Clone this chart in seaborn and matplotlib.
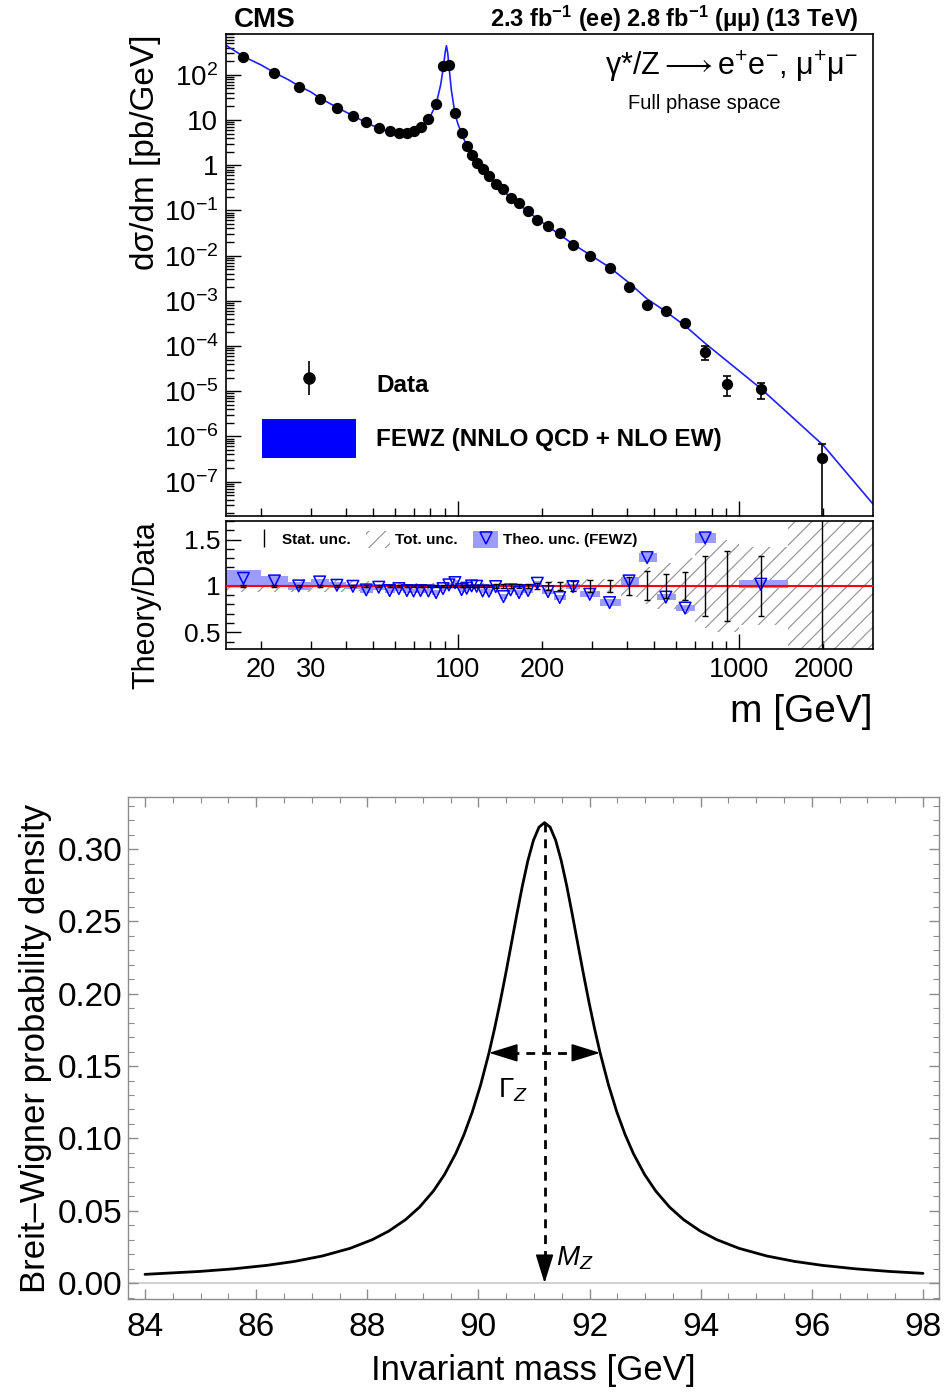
import numpy as np
import pandas as pd
import matplotlib
matplotlib.use("Agg")
import matplotlib.pyplot as plt
import seaborn as sns
from matplotlib.ticker import FixedLocator, FuncFormatter, LogLocator, MultipleLocator, NullFormatter, FormatStrFormatter
from matplotlib.patches import Patch
from matplotlib.lines import Line2D
from matplotlib.legend_handler import HandlerTuple

# ---------------- top panel data ----------------
bin_edges = [15, 20, 25, 30, 35, 40, 45, 50, 55, 60, 64, 68, 72, 76, 81, 86, 91, 96, 101, 106,
             110, 115, 120, 126, 133, 141, 150, 160, 171, 185, 200, 220, 243, 273, 320, 380, 440,
             510, 600, 700, 830, 1000, 1500, 3000]
mass = [17.3, 22.3, 27.2, 32.3, 37.2, 42.4, 47.3, 52.4, 57.3, 61.8, 66.0, 69.7, 73.8, 78.7, 83.8,
        88.7, 93.1, 97.8, 103.3, 107.7, 112.1, 116.8, 122.7, 129.2, 136.5, 145.5, 154.3, 165.3,
        178, 192, 209.6, 230.6, 257, 295, 347, 407, 472, 550, 644, 759, 908, 1197, 1973]
xsec = [247, 109, 55, 29.3, 18.5, 12.3, 8.9, 6.64, 5.7, 5.06, 5.22, 5.79, 6.99, 10.4, 23,
        158, 169, 14.3, 5.14, 2.69, 1.67, 1.13, 0.815, 0.57, 0.379, 0.293, 0.191, 0.143,
        0.098, 0.062, 0.0457, 0.0313, 0.0169, 0.010, 0.00532, 0.00201, 0.00083, 0.000602,
        0.000331, 7.47e-5, 1.46e-5, 1.13e-5, 3.3e-7]
xsec_err_lo = [0] * 39 + [2.57e-5, 6.8e-6, 4.7e-6, 3.29e-7]
xsec_err_hi = [0] * 39 + [2.73e-5, 6.9e-6, 4.0e-6, 3.6e-7]
y_decades = [1e-7, 1e-6, 1e-5, 1e-4, 1e-3, 1e-2, 1e-1, 1, 10, 100]

fewz_mass = [15, 17.3, 20, 22.3, 25, 27.2, 30, 32.3, 37.2, 42.4, 47.3, 52.4, 57.3, 61.8, 66, 70,
             74, 78.7, 83.8, 87, 89, 90.3, 91.2, 92.2, 93.5, 95, 97.8, 100, 103.3, 107.7, 112,
             117, 123, 129, 137, 146, 154, 165, 178, 192, 210, 231, 257, 295, 347, 407, 472,
             550, 644, 759, 1197, 2000, 3000]
fewz_xsec = [450, 255, 165, 112, 78, 57, 42, 31, 19, 12.5, 8.7, 6.6, 5.4, 5.0, 5.1, 5.7,
             6.8, 10, 22, 60, 150, 320, 440, 300, 120, 45, 14, 8.5, 5.0, 2.7, 1.65,
             1.12, 0.79, 0.56, 0.38, 0.27, 0.19, 0.135, 0.095, 0.065, 0.044, 0.029, 0.018,
             0.0105, 0.0055, 0.0025, 0.0011, 0.00058, 0.00028, 0.000115, 1.15e-5,
             6.3e-7, 3.2e-8]

nan = float("nan")
ratio = [1.082, 1.054, 1.0, 1.043, 1.007, 0.996, 0.957, 0.986, 0.95, 0.971,
         0.95, 0.946, 0.95, 0.946, 0.928, 0.971, 1.011, 1.036, 0.96, 0.975,
         1.0, 0.996, 0.946, 0.943, 0.993, 0.885, 0.957, 0.928, 0.95, 1.029,
         0.939, 0.875, 0.993, 0.91, 0.82, 1.054, 1.305, 0.879, 0.761, 1.518,
         nan, 1.018, nan]
theo_unc = [0.09, 0.05, 0.04, 0.035, 0.03, 0.03, 0.03, 0.03, 0.025, 0.025,
            0.025, 0.025, 0.025, 0.025, 0.025, 0.025, 0.025, 0.025, 0.025, 0.025,
            0.025, 0.025, 0.025, 0.025, 0.025, 0.025, 0.025, 0.025, 0.025, 0.025,
            0.03, 0.03, 0.03, 0.03, 0.04, 0.04, 0.05, 0.035, 0.03, 0.05,
            nan, 0.045, nan]
stat_unc = [0.01, 0.01, 0.01, 0.01, 0.01, 0.01, 0.01, 0.01, 0.01, 0.008,
            0.008, 0.008, 0.008, 0.008, 0.008, 0.008, 0.008, 0.008, 0.008, 0.008,
            0.012, 0.012, 0.015, 0.015, 0.018, 0.02, 0.02, 0.022, 0.025, 0.028,
            0.045, 0.043, 0.054, 0.063, 0.068, 0.095, 0.156, 0.125, 0.155, 0.32,
            0.38, 0.32, 3.0]
tot_unc = [0.07, 0.07, 0.07, 0.07, 0.07, 0.05, 0.05, 0.04, 0.04, 0.03,
           0.03, 0.03, 0.03, 0.03, 0.03, 0.03, 0.03, 0.03, 0.03, 0.03,
           0.03, 0.03, 0.03, 0.035, 0.035, 0.035, 0.035, 0.035, 0.035, 0.035,
           0.05, 0.05, 0.065, 0.07, 0.075, 0.12, 0.2, 0.25, 0.3, 0.45,
           0.5, 0.42, 2.0]

# ---------------- bottom panel data ----------------
bw_mass = [84.0, 84.99, 85.59, 86.19, 86.69, 87.19, 87.69, 88.09, 88.39, 88.69, 88.94,
           89.19, 89.39, 89.59, 89.74, 89.89, 90.04, 90.19, 90.29, 90.39, 90.49, 90.59,
           90.69, 90.79, 90.89, 90.99, 91.09, 91.19, 91.29, 91.39, 91.49, 91.59, 91.69,
           91.79, 91.89, 91.99, 92.09, 92.19, 92.34, 92.49, 92.64, 92.79, 92.99, 93.19,
           93.44, 93.69, 93.99, 94.29, 94.69, 95.19, 95.69, 96.19, 96.79, 97.39, 98.0]
bw_density = [0.00604, 0.00807, 0.00984, 0.01224, 0.01498, 0.01872, 0.02402, 0.03000,
              0.03601, 0.04390, 0.05250, 0.06366, 0.07507, 0.08941, 0.10259, 0.11833,
              0.13705, 0.15915, 0.17586, 0.19409, 0.21362, 0.23404, 0.25464, 0.27440,
              0.29202, 0.30606, 0.31515, 0.31830, 0.31515, 0.30606, 0.29202, 0.27440,
              0.25464, 0.23404, 0.21362, 0.19409, 0.17586, 0.15915, 0.13705, 0.11833,
              0.10259, 0.08941, 0.07507, 0.06366, 0.05250, 0.04390, 0.03601, 0.03000,
              0.02402, 0.01872, 0.01498, 0.01224, 0.00984, 0.00807, 0.00672]
M_Z = 91.19
Gamma_Z = 2.0

# ---------------- style ----------------
sns.set_style("white")
plt.rcParams["font.family"] = ["Liberation Sans", "DejaVu Sans"]
plt.rcParams["mathtext.fontset"] = "custom"
plt.rcParams["mathtext.rm"] = "Liberation Sans"
plt.rcParams["mathtext.it"] = "Liberation Sans:italic"
plt.rcParams["mathtext.bf"] = "Liberation Sans:bold"
plt.rcParams["hatch.linewidth"] = 0.9
for k in ("text.color", "axes.labelcolor", "xtick.color", "ytick.color"):
    plt.rcParams[k] = "black"

W, H = 945, 1394
fig = plt.figure(figsize=(W / 100, H / 100), dpi=100)
fig.patch.set_facecolor("white")

def rect(l, t, r, b):
    return [l / W, 1 - b / H, (r - l) / W, (b - t) / H]

ax = fig.add_axes(rect(226, 34, 873, 516))
ax_r = fig.add_axes(rect(226, 521, 873, 649))
ax_bw = fig.add_axes(rect(128, 797, 939, 1299))

# ---------------- main panel ----------------
ax.set_xscale("log")
ax.set_yscale("log")
df_fewz = pd.DataFrame({"m": fewz_mass, "xs": fewz_xsec})
sns.lineplot(data=df_fewz, x="m", y="xs", color="#2020ff", lw=1.2, ax=ax,
             estimator=None, sort=False, zorder=2)
ax.errorbar(mass, xsec, yerr=[xsec_err_lo, xsec_err_hi], fmt="none", ecolor="black",
            elinewidth=1.2, capsize=3, capthick=1.2, zorder=3)
df_data = pd.DataFrame({"m": mass, "xs": xsec})
sns.scatterplot(data=df_data, x="m", y="xs", color="black", s=66, linewidth=0, ax=ax, zorder=4)
ax.set_xlim(15, 3000)
ax.set_ylim(1.74e-8, 800)
ax.set_xlabel("")

data_h = (Line2D([], [], marker="|", color="black", ls="none", ms=25, mew=1.2),
          Line2D([], [], marker="o", color="black", ls="none", ms=8))
fewz_h = Patch(facecolor="#0000ff", edgecolor="none")
ax.legend([data_h, fewz_h], ["Data", "FEWZ (NNLO QCD + NLO EW)"], loc="center left",
          bbox_to_anchor=(0.0556, 0.2178), frameon=False,
          prop={"weight": "bold", "size": 17.5}, handlelength=3.87, handleheight=2.1,
          handletextpad=0.82, labelspacing=0.62, borderpad=0, borderaxespad=0,
          handler_map={tuple: HandlerTuple(ndivide=1, pad=0)})

ax.text(0.012, 1.0145, "CMS", transform=ax.transAxes, fontsize=20, fontweight="bold",
        ha="left", va="baseline")
ax.text(0.977, 1.0145, r"2.3 fb$^{\mathbf{-1}}$ (ee) 2.8 fb$^{\mathbf{-1}}$ (μμ) (13 TeV)",
        transform=ax.transAxes, fontsize=17, fontweight="bold", ha="right", va="baseline")
ax.text(0.977, 0.915, r"γ*/Z$\longrightarrow$e$^{+}$e$^{-}$, μ$^{+}$μ$^{-}$",
        transform=ax.transAxes, fontsize=22, ha="right", va="baseline")
ax.text(0.621, 0.8444, "Full phase space", transform=ax.transAxes, fontsize=14.5,
        ha="left", va="baseline")

def log_lab(v, p):
    e = int(round(np.log10(v)))
    if e == 0:
        return "1"
    if e == 1:
        return "10"
    return r"$10^{%d}$" % e

ax.yaxis.set_major_locator(FixedLocator(y_decades))
ax.yaxis.set_minor_locator(LogLocator(base=10, subs=np.arange(2, 10), numticks=20))
ax.yaxis.set_major_formatter(FuncFormatter(log_lab))
ax.yaxis.set_minor_formatter(NullFormatter())
ax.set_ylabel("dσ/dm [pb/GeV]", fontsize=24, loc="top")
ax.yaxis.set_label_coords(-0.1005, 1.0)

minor_x = [k * 10 ** d for d in (1, 2, 3) for k in range(2, 10) if 15 < k * 10 ** d < 3000]
for a in (ax, ax_r):
    a.set_xscale("log")
    a.set_xlim(15, 3000)
    a.xaxis.set_major_locator(FixedLocator([100, 1000]))
    a.xaxis.set_minor_locator(FixedLocator(minor_x))
    a.tick_params(axis="both", which="both", direction="in", top=False, right=False,
                  left=True, bottom=True, color="black")
    a.tick_params(which="major", length=11, width=1)
    a.tick_params(which="minor", length=5.5, width=1)
    for s in a.spines.values():
        s.set_color("black")
        s.set_linewidth(1.2)

ax.tick_params(axis="x", which="both", labelbottom=False)
ax.tick_params(axis="y", which="major", labelsize=20, pad=5.5)

# ---------------- ratio panel ----------------
edges = np.array(bin_edges, dtype=float)
left = edges[:-1]
widths = np.diff(edges)
tot = np.array(tot_unc)
theo = np.array(theo_unc)
rat = np.array(ratio)
ax_r.bar(left, 2 * tot, bottom=1 - tot, width=widths, align="edge", facecolor="none",
         edgecolor="#9a9a9a", hatch="//", linewidth=0, zorder=1)
ax_r.bar(left, 2 * theo, bottom=rat - theo, width=widths, align="edge", color="#9c9cff",
         linewidth=0, zorder=2)
ax_r.axhline(1, color="#ff0000", lw=1.5, zorder=3)
df_ratio = pd.DataFrame({"m": mass, "r": ratio})
sns.scatterplot(data=df_ratio, x="m", y="r", marker="v", s=70, color="#0000ff",
                facecolor="none", edgecolor="#0000ff", linewidth=1.1, ax=ax_r, zorder=4)
ax_r.errorbar(mass, np.ones(len(mass)), yerr=stat_unc, fmt="none", ecolor="black",
              elinewidth=1.0, capsize=2.5, capthick=1.0, zorder=5)
ax_r.set_ylim(0.32, 1.70)
ax_r.yaxis.set_major_locator(FixedLocator([0.5, 1.0, 1.5]))
ax_r.yaxis.set_minor_locator(MultipleLocator(0.1))
ax_r.yaxis.set_major_formatter(FuncFormatter(lambda v, p: "%g" % v))
ax_r.tick_params(axis="y", which="major", labelsize=19, pad=4)
ax_r.xaxis.set_major_formatter(FuncFormatter(lambda v, p: "%d" % round(v)))
ax_r.xaxis.set_minor_formatter(FuncFormatter(
    lambda v, p: "%d" % round(v) if int(round(v)) in (20, 30, 200, 2000) else ""))
ax_r.tick_params(axis="x", which="both", labelsize=19.5, pad=6)
ax_r.set_ylabel("Theory/Data", fontsize=22, loc="top")
ax_r.yaxis.set_label_coords(-0.1, 1.0)
ax_r.set_xlabel("m [GeV]", fontsize=28, loc="right", labelpad=8)

stat_h = Line2D([], [], color="black", marker="|", ls="none", ms=13, mew=1.0)
tot_h = Patch(facecolor="none", edgecolor="#9a9a9a", hatch="//", linewidth=0)
theo_h = (Patch(facecolor="#9c9cff", edgecolor="none"),
          Line2D([], [], marker="v", ls="none", mfc="none", mec="#0000ff", ms=8.5, mew=1.1))
ax_r.legend([stat_h, tot_h, theo_h], ["Stat. unc.", "Tot. unc.", "Theo. unc. (FEWZ)"],
            ncol=3, loc="center left", bbox_to_anchor=(0.04, 0.858), frameon=False,
            prop={"weight": "bold", "size": 11}, handlelength=1.6, handleheight=1.3,
            handletextpad=0.35, columnspacing=1.0, borderpad=0, borderaxespad=0,
            handler_map={tuple: HandlerTuple(ndivide=1, pad=0)})

# ---------------- Breit-Wigner panel ----------------
df_bw = pd.DataFrame({"m": bw_mass, "p": bw_density})
sns.lineplot(data=df_bw, x="m", y="p", color="black", lw=2, ax=ax_bw, estimator=None,
             sort=False, zorder=3)
ax_bw.axhline(0, color="#c8c8c8", lw=1.2, zorder=0)
ax_bw.set_xlim(83.694, 98.288)
ax_bw.set_ylim(-0.011, 0.336)

peak = max(bw_density)
half = peak / 2
head = 0.0173
dash_kw = dict(color="black", lw=2, ls=(0, (3.2, 2.5)), zorder=4)
ax_bw.plot([M_Z, M_Z], [peak, head], **dash_kw)
ax_bw.plot([M_Z - Gamma_Z / 2 + 0.38, M_Z + Gamma_Z / 2 - 0.38], [half, half], **dash_kw)
arrow_kw = dict(arrowstyle="-|>,head_length=0.9,head_width=0.28", mutation_scale=20,
                color="black", lw=1.2, shrinkA=0, shrinkB=0)
ax_bw.annotate("", xy=(M_Z, 0), xytext=(0, 18), textcoords="offset points",
               arrowprops=arrow_kw, zorder=5)
ax_bw.annotate("", xy=(M_Z - Gamma_Z / 2, half), xytext=(16, 0), textcoords="offset points",
               arrowprops=arrow_kw, zorder=5)
ax_bw.annotate("", xy=(M_Z + Gamma_Z / 2, half), xytext=(-16, 0), textcoords="offset points",
               arrowprops=arrow_kw, zorder=5)
ax_bw.text(90.62, 0.1334, r"$\Gamma_Z$", fontsize=20, ha="center", va="center")
ax_bw.text(91.39, 0.0173, r"$M_Z$", fontsize=20, ha="left", va="center")

ax_bw.xaxis.set_major_locator(MultipleLocator(2))
ax_bw.xaxis.set_minor_locator(MultipleLocator(0.5))
ax_bw.yaxis.set_major_locator(MultipleLocator(0.05))
ax_bw.yaxis.set_minor_locator(MultipleLocator(0.01))
ax_bw.xaxis.set_major_formatter(FormatStrFormatter("%d"))
ax_bw.yaxis.set_major_formatter(FormatStrFormatter("%.2f"))
ax_bw.tick_params(which="both", direction="in", top=True, right=True, left=True, bottom=True,
                  color="#8c8c8c", labelsize=24, labelcolor="black")
ax_bw.tick_params(which="major", length=7, width=1)
ax_bw.tick_params(which="minor", length=4, width=0.8)
ax_bw.tick_params(axis="x", which="major", pad=9)
ax_bw.tick_params(axis="y", which="major", pad=4)
for s in ax_bw.spines.values():
    s.set_color("#8c8c8c")
    s.set_linewidth(1)
ax_bw.set_xlabel("Invariant mass [GeV]", fontsize=25, labelpad=8)
ax_bw.set_ylabel("Breit–Wigner probability density", fontsize=25, labelpad=4)

fig.savefig("out.png", dpi=100, facecolor="white")
